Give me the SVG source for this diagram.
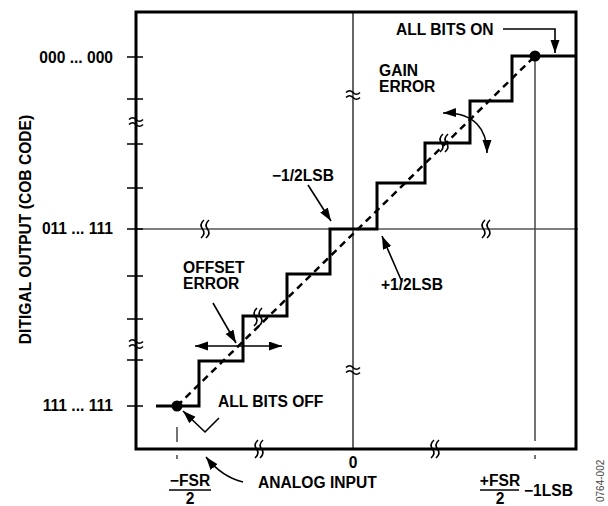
<svg xmlns="http://www.w3.org/2000/svg" width="608" height="506" viewBox="0 0 608 506">
<style>
.t{font-family:"Liberation Sans",Arial,sans-serif;font-weight:bold;font-size:15.6px;fill:#000}
.thin{stroke:#000;stroke-width:1.2;fill:none}
.tick{stroke:#000;stroke-width:1.5;fill:none}
.box{stroke:#000;stroke-width:3;fill:none}
.stair{stroke:#000;stroke-width:3;fill:none;stroke-linejoin:miter}
.dash{stroke:#000;stroke-width:2.5;fill:none;stroke-dasharray:7 5}
.gray{stroke:#444;stroke-width:1.5;fill:none}
.arr{stroke:#000;stroke-width:1.6;fill:none}
.brk{stroke:#000;stroke-width:1.6;fill:none}
</style>
<defs>
<marker id="ah" markerUnits="userSpaceOnUse" markerWidth="14" markerHeight="10" refX="13" refY="4.5" orient="auto-start-reverse">
<path d="M0,0 L13,4.5 L0,9 z" fill="#000"/>
</marker>
<g id="bv"><path d="M-7,-2.5 Q-3.5,-6 0,-2.5 Q3.5,1 7,-2.5 M-7,2.5 Q-3.5,-1 0,2.5 Q3.5,6 7,2.5" class="brk"/></g>
<g id="bh"><path d="M0,-9 Q-5,-4.5 -1.5,0 Q2,4.5 -3,9 M5,-9 Q0,-4.5 3.5,0 Q7,4.5 2,9" class="brk"/></g>
</defs>
<rect width="608" height="506" fill="#fff"/>
<g id="grid">
<line x1="136" y1="229" x2="578" y2="229" class="thin"/>
<line x1="353" y1="12" x2="353" y2="449" class="thin"/>
<line x1="535" y1="56" x2="535" y2="441" class="gray"/>
<line x1="535" y1="455" x2="535" y2="459" class="gray"/>
<line x1="177" y1="427" x2="177" y2="442" class="gray"/>
<line x1="177" y1="455" x2="177" y2="459" class="gray"/>
</g>
<g id="axes">
<rect x="136" y="12" width="440" height="437" class="box"/>
<path d="M127,57 H143 M127,99 H143 M127,144 H143 M127,188 H143 M127,229 H143 M127,276 H143 M127,319 H143 M127,360 H143 M127,406 H143" class="tick"/>
</g>
<g id="breaks">
<use href="#bv" x="136" y="122"/>
<use href="#bv" x="136" y="344"/>
<use href="#bv" x="353" y="95"/>
<use href="#bv" x="353" y="370"/>
<use href="#bh" x="204" y="229"/>
<use href="#bh" x="485" y="229"/>
<use href="#bh" x="258" y="449"/>
<use href="#bh" x="434" y="449"/>
</g>
<g id="transfer">
<line x1="177" y1="406" x2="535" y2="56" class="dash"/>
<path d="M156,406 H199 V361 H243 V316 H287 V274 H330 V229 H377 V183 H425 V143 H470 V101 H512 V56 H576" class="stair"/>
<use href="#bh" x="257" y="317"/>
<use href="#bh" x="443" y="143"/>
<circle cx="177" cy="406" r="5.5" fill="#000"/>
<circle cx="535" cy="56" r="5.5" fill="#000"/>
</g>
<g id="connectors">
<path d="M503,29 H555 V53" class="arr" marker-end="url(#ah)"/>
<path d="M308,185 L331,221" class="arr" marker-end="url(#ah)"/>
<path d="M402,282 L382,236" class="arr" marker-end="url(#ah)"/>
<path d="M213,303 L236,343" class="arr" marker-end="url(#ah)"/>
<path d="M195,346 H282" class="arr" marker-start="url(#ah)" marker-end="url(#ah)"/>
<path d="M443,113 C475,112 487,130 487,153" class="arr" marker-start="url(#ah)" marker-end="url(#ah)"/>
<path d="M219,418 L205,432 L183,411" class="arr" marker-end="url(#ah)"/>
<path d="M243,482 Q222,477 206,457" class="arr" marker-end="url(#ah)"/>
</g>
<g id="labels">
<text class="t" x="113" y="63" text-anchor="end">000 ... 000</text>
<text class="t" x="113" y="234" text-anchor="end">011 ... 111</text>
<text class="t" x="113" y="411" text-anchor="end">111 ... 111</text>
<text class="t" transform="translate(31,229.5) rotate(-90)" text-anchor="middle">DITIGAL OUTPUT (COB CODE)</text>
<text class="t" x="396" y="35">ALL BITS ON</text>
<text class="t" x="379" y="76">GAIN</text>
<text class="t" x="379" y="92">ERROR</text>
<text class="t" x="272" y="181">−1/2LSB</text>
<text class="t" x="381" y="290">+1/2LSB</text>
<text class="t" x="183" y="273">OFFSET</text>
<text class="t" x="183" y="289">ERROR</text>
<text class="t" x="218" y="407">ALL BITS OFF</text>
<text class="t" x="353" y="468" text-anchor="middle">0</text>
<text class="t" x="258" y="488">ANALOG INPUT</text>
<text class="t" x="190" y="486" text-anchor="middle">−FSR</text>
<line x1="169" y1="490" x2="211" y2="490" stroke="#000" stroke-width="1.5"/>
<text class="t" x="190" y="504" text-anchor="middle">2</text>
<text class="t" x="500" y="486" text-anchor="middle">+FSR</text>
<line x1="480" y1="490" x2="519" y2="490" stroke="#000" stroke-width="1.5"/>
<text class="t" x="500" y="504" text-anchor="middle">2</text>
<text class="t" x="524" y="496">−1LSB</text>
<text transform="translate(604,502) rotate(-90)" font-family="Liberation Sans,Arial,sans-serif" font-size="10" fill="#444">0764-002</text>
</g>
</svg>
